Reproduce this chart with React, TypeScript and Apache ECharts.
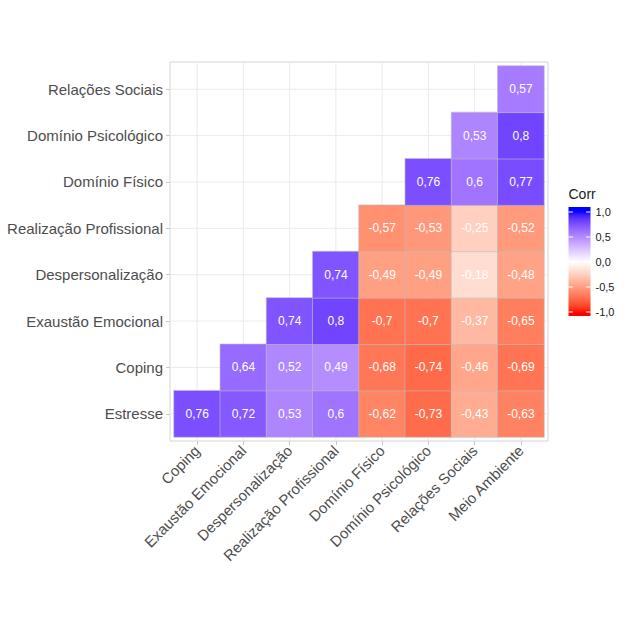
import React, { useEffect, useRef } from "react";
import * as echarts from "echarts";

const xCats = [
  "Coping",
  "Exaustão Emocional",
  "Despersonalização",
  "Realização Profissional",
  "Domínio Físico",
  "Domínio Psicológico",
  "Relações Sociais",
  "Meio Ambiente",
];
const yCats = [
  "Estresse",
  "Coping",
  "Exaustão Emocional",
  "Despersonalização",
  "Realização Profissional",
  "Domínio Físico",
  "Domínio Psicológico",
  "Relações Sociais",
];

// rows (bottom to top), columns follow xCats; null = empty cell
const rowEstresse = [0.76, 0.72, 0.53, 0.6, -0.62, -0.73, -0.43, -0.63];
const rowCoping = [null, 0.64, 0.52, 0.49, -0.68, -0.74, -0.46, -0.69];
const rowExaustao = [null, null, 0.74, 0.8, -0.7, -0.7, -0.37, -0.65];
const rowDespers = [null, null, null, 0.74, -0.49, -0.49, -0.18, -0.48];
const rowRealizacao = [null, null, null, null, -0.57, -0.53, -0.25, -0.52];
const rowFisico = [null, null, null, null, null, 0.76, 0.6, 0.77];
const rowPsicologico = [null, null, null, null, null, null, 0.53, 0.8];
const rowSociais = [null, null, null, null, null, null, null, 0.57];
const rows = [
  rowEstresse,
  rowCoping,
  rowExaustao,
  rowDespers,
  rowRealizacao,
  rowFisico,
  rowPsicologico,
  rowSociais,
];

const legendTicks = [1, 0.5, 0, -0.5, -1];
const legendTitle = "Corr";

// ---- Lab interpolation (like ggplot's scale_fill_gradient2) ----
const toLin = (c: number) => {
  c /= 255;
  return c <= 0.04045 ? c / 12.92 : Math.pow((c + 0.055) / 1.055, 2.4);
};
const f = (t: number) => (t > 0.008856 ? Math.cbrt(t) : 7.787 * t + 16 / 116);
const finv = (t: number) => (t * t * t > 0.008856 ? t * t * t : (t - 16 / 116) / 7.787);
function rgbToLab(rgb: number[]) {
  const [r, g, b] = rgb.map(toLin);
  const X = (0.4124564 * r + 0.3575761 * g + 0.1804375 * b) / 0.95047;
  const Y = 0.2126729 * r + 0.7151522 * g + 0.072175 * b;
  const Z = (0.0193339 * r + 0.119192 * g + 0.9503041 * b) / 1.08883;
  return [116 * f(Y) - 16, 500 * (f(X) - f(Y)), 200 * (f(Y) - f(Z))];
}
function labToHex(lab: number[]) {
  const [L, a, bb] = lab;
  const fy = (L + 16) / 116;
  const fx = fy + a / 500;
  const fz = fy - bb / 200;
  const X = 0.95047 * finv(fx);
  const Y = finv(fy);
  const Z = 1.08883 * finv(fz);
  const lin = [
    3.2404542 * X - 1.5371385 * Y - 0.4985314 * Z,
    -0.969266 * X + 1.8760108 * Y + 0.041556 * Z,
    0.0556434 * X - 0.2040259 * Y + 1.0572252 * Z,
  ];
  return (
    "#" +
    lin
      .map((c) => {
        const v = c <= 0.0031308 ? 12.92 * c : 1.055 * Math.pow(c, 1 / 2.4) - 0.055;
        const n = Math.round(Math.max(0, Math.min(1, v)) * 255);
        return n.toString(16).padStart(2, "0");
      })
      .join("")
  );
}
const LAB_RED = rgbToLab([255, 0, 0]);
const LAB_WHITE = rgbToLab([255, 255, 255]);
const LAB_BLUE = rgbToLab([0, 0, 255]);
function corrColor(v: number) {
  const t = Math.max(-1, Math.min(1, v));
  const end = t < 0 ? LAB_RED : LAB_BLUE;
  const k = Math.abs(t);
  return labToHex(LAB_WHITE.map((w, i) => w + (end[i] - w) * k));
}

const fmt = (v: number) => String(v).replace(".", ",");

const GRID = { left: 174, top: 66, width: 370, height: 371 };
const PAD = 4;
const FONT = "'Liberation Sans', Arial, Helvetica, sans-serif";

export default function App() {
  const ref = useRef<HTMLDivElement>(null);
  useEffect(() => {
    if (!ref.current) return;
    const chart = echarts.init(ref.current, undefined, { renderer: "svg" });

    const data: any[] = [];
    rows.forEach((row, yi) =>
      row.forEach((v, xi) => {
        if (v !== null && v !== undefined) data.push([xi, yi, v]);
      })
    );

    const stops: string[] = [];
    for (let i = 0; i <= 40; i++) stops.push(corrColor(-1 + i * 0.05));

    // legend colorbar
    const barX = 568.5;
    const barW = 22;
    const barTop = 207;
    const barBot = 316;
    const y0 = 262;
    const unit = 50;
    const vAt = (y: number) => (y0 - y) / unit;
    const gradStops: any[] = [];
    for (let i = 0; i <= 40; i++) {
      const off = i / 40;
      const y = barTop + off * (barBot - barTop);
      gradStops.push({ offset: off, color: corrColor(vAt(y)) });
    }
    const legendEls: any[] = [
      {
        type: "text",
        x: barX,
        y: 194,
        style: {
          text: legendTitle,
          fontSize: 14,
          fontFamily: FONT,
          fill: "#1a1a1a",
          verticalAlign: "middle",
          align: "left",
        },
      },
      {
        type: "rect",
        shape: { x: barX, y: barTop, width: barW, height: barBot - barTop },
        style: {
          fill: {
            type: "linear",
            x: 0,
            y: 0,
            x2: 0,
            y2: 1,
            colorStops: gradStops,
          },
        },
      },
    ];
    legendTicks.forEach((t) => {
      const y = y0 - t * unit;
      legendEls.push(
        {
          type: "line",
          shape: { x1: barX, y1: y, x2: barX + 4.4, y2: y },
          style: { stroke: "#ffffff", lineWidth: 1 },
        },
        {
          type: "line",
          shape: { x1: barX + barW - 4.4, y1: y, x2: barX + barW, y2: y },
          style: { stroke: "#ffffff", lineWidth: 1 },
        },
        {
          type: "text",
          x: barX + barW + 5,
          y,
          style: {
            text: t.toFixed(1).replace(".", ","),
            fontSize: 11,
            fontFamily: FONT,
            fill: "#1a1a1a",
            verticalAlign: "middle",
            align: "left",
          },
        }
      );
    });

    const option: any = {
      animation: false,
      backgroundColor: "#ffffff",
      grid: { ...GRID, containLabel: false },
      xAxis: {
        type: "category",
        data: xCats,
        offset: PAD,
        axisLine: { show: false },
        axisTick: {
          show: true,
          alignWithLabel: true,
          length: 4,
          lineStyle: { color: "#c8c8c8" },
        },
        axisLabel: {
          rotate: 45,
          interval: 0,
          margin: 7,
          fontSize: 15,
          color: "#4d4d4d",
          fontFamily: FONT,
        },
        splitLine: { show: false },
      },
      yAxis: {
        type: "category",
        data: yCats,
        offset: PAD,
        axisLine: { show: false },
        axisTick: {
          show: true,
          alignWithLabel: true,
          length: 4,
          lineStyle: { color: "#c8c8c8" },
        },
        axisLabel: {
          interval: 0,
          margin: 7,
          fontSize: 15,
          color: "#4d4d4d",
          fontFamily: FONT,
        },
        splitLine: { show: false },
      },
      visualMap: {
        show: false,
        type: "continuous",
        min: -1,
        max: 1,
        dimension: 2,
        seriesIndex: 2,
        inRange: { color: stops },
      },
      graphic: [
        {
          type: "rect",
          z: 0,
          shape: {
            x: GRID.left - PAD,
            y: GRID.top - PAD,
            width: GRID.width + 2 * PAD,
            height: GRID.height + 2 * PAD,
          },
          style: { fill: "none", stroke: "#d4d4d4", lineWidth: 1 },
        },
        ...legendEls,
      ],
      series: [
        {
          type: "custom",
          z: 1,
          silent: true,
          data: xCats.map((_, i) => [i, 0]),
          renderItem: (params: any, api: any) => {
            const x = api.coord([api.value(0), 0])[0];
            const cs = params.coordSys;
            return {
              type: "line",
              shape: { x1: x, y1: cs.y - PAD, x2: x, y2: cs.y + cs.height + PAD },
              style: { stroke: "#ebebeb", lineWidth: 1 },
            };
          },
        },
        {
          type: "custom",
          z: 1,
          silent: true,
          data: yCats.map((_, i) => [0, i]),
          renderItem: (params: any, api: any) => {
            const y = api.coord([0, api.value(1)])[1];
            const cs = params.coordSys;
            return {
              type: "line",
              shape: { x1: cs.x - PAD, y1: y, x2: cs.x + cs.width + PAD, y2: y },
              style: { stroke: "#ebebeb", lineWidth: 1 },
            };
          },
        },
        {
          type: "heatmap",
          z: 3,
          data,
          itemStyle: { borderColor: "#bebebe", borderWidth: 0.6 },
          label: {
            show: true,
            color: "#ffffff",
            fontSize: 12,
            fontFamily: FONT,
            formatter: (p: any) => fmt(p.value[2]),
          },
          emphasis: { disabled: true },
        },
      ],
    };
    chart.setOption(option);
    return () => chart.dispose();
  }, []);
  return (
    <div
      ref={ref}
      style={{ position: "fixed", left: 0, top: 0, width: 630, height: 630 }}
    />
  );
}
